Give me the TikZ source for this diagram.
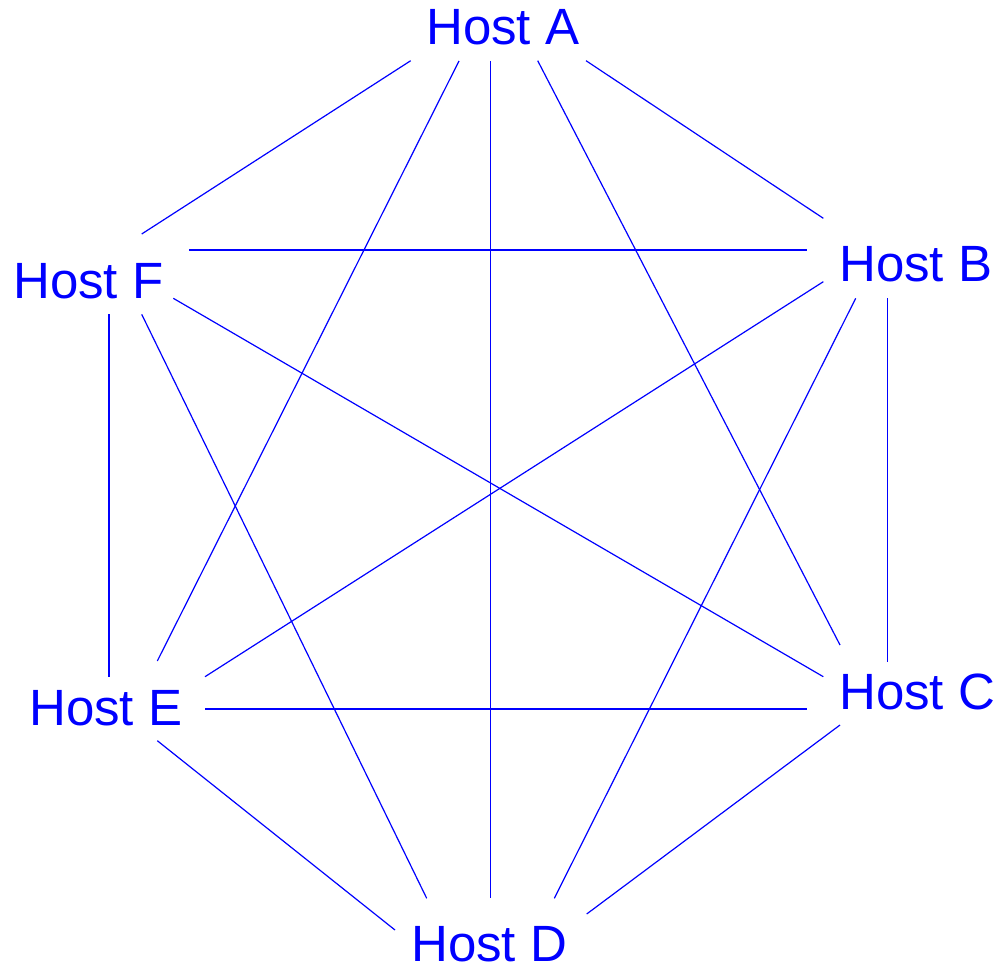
\documentclass[tikz,border=0pt]{standalone}
\usepackage{fontspec}
\setmainfont{Liberation Sans}
\begin{document}
\begin{tikzpicture}[x=1pt,y=-1pt,
  host/.style={anchor=base west,inner sep=0pt,text=hostblue,font=\fontsize{51}{55}\selectfont},
  link/.style={draw=hostblue,line width=1.2pt}]
\definecolor{hostblue}{RGB}{0,0,255}
\useasboundingbox (0,0) rectangle (998,966);
% labels
\node[host] (A) at (426,45) {Host A};
\node[host] (B) at (839,281.7) {Host B};
\node[host] (C) at (839,709) {Host C};
\node[host] (D) at (411,961.7) {Host D};
\node[host] (E) at (29,725) {Host E};
\node[host] (F) at (13,298.3) {Host F};
% connector ends
\coordinate (AF) at (410.7,60.7);
\coordinate (AE) at (459,61);
\coordinate (AD) at (490.5,61);
\coordinate (AC) at (537.7,60.7);
\coordinate (AB) at (586,60.7);
\coordinate (BA) at (823.3,218.3);
\coordinate (BF) at (807.3,250);
\coordinate (BE) at (823.3,281.7);
\coordinate (BD) at (855.7,298.3);
\coordinate (BC) at (887.3,298.3);
\coordinate (CA) at (840,645);
\coordinate (CB) at (887.3,661.7);
\coordinate (CF) at (823.3,676.7);
\coordinate (CE) at (807.3,709);
\coordinate (CD) at (840,725);
\coordinate (DE) at (395,930);
\coordinate (DF) at (426.7,898.3);
\coordinate (DA) at (490.5,898.3);
\coordinate (DB) at (554.3,898.3);
\coordinate (DC) at (586.7,914);
\coordinate (EF) at (109,676.7);
\coordinate (EA) at (157.3,661);
\coordinate (EB) at (205,676.7);
\coordinate (EC) at (205,709);
\coordinate (ED) at (157.3,740.7);
\coordinate (FA) at (141.7,234);
\coordinate (FB) at (189.3,250);
\coordinate (FC) at (173.3,298.3);
\coordinate (FE) at (109,314.3);
\coordinate (FD) at (141.7,314.3);
% connectors
\draw[link] (AF) -- (FA);
\draw[link] (AE) -- (EA);
\draw[link] (AD) -- (DA);
\draw[link] (AC) -- (CA);
\draw[link] (AB) -- (BA);
\draw[link] (FB) -- (BF);
\draw[link] (FC) -- (CF);
\draw[link] (FE) -- (EF);
\draw[link] (FD) -- (DF);
\draw[link] (BE) -- (EB);
\draw[link] (BD) -- (DB);
\draw[link] (BC) -- (CB);
\draw[link] (EC) -- (CE);
\draw[link] (ED) -- (DE);
\draw[link] (CD) -- (DC);
\end{tikzpicture}
\end{document}
